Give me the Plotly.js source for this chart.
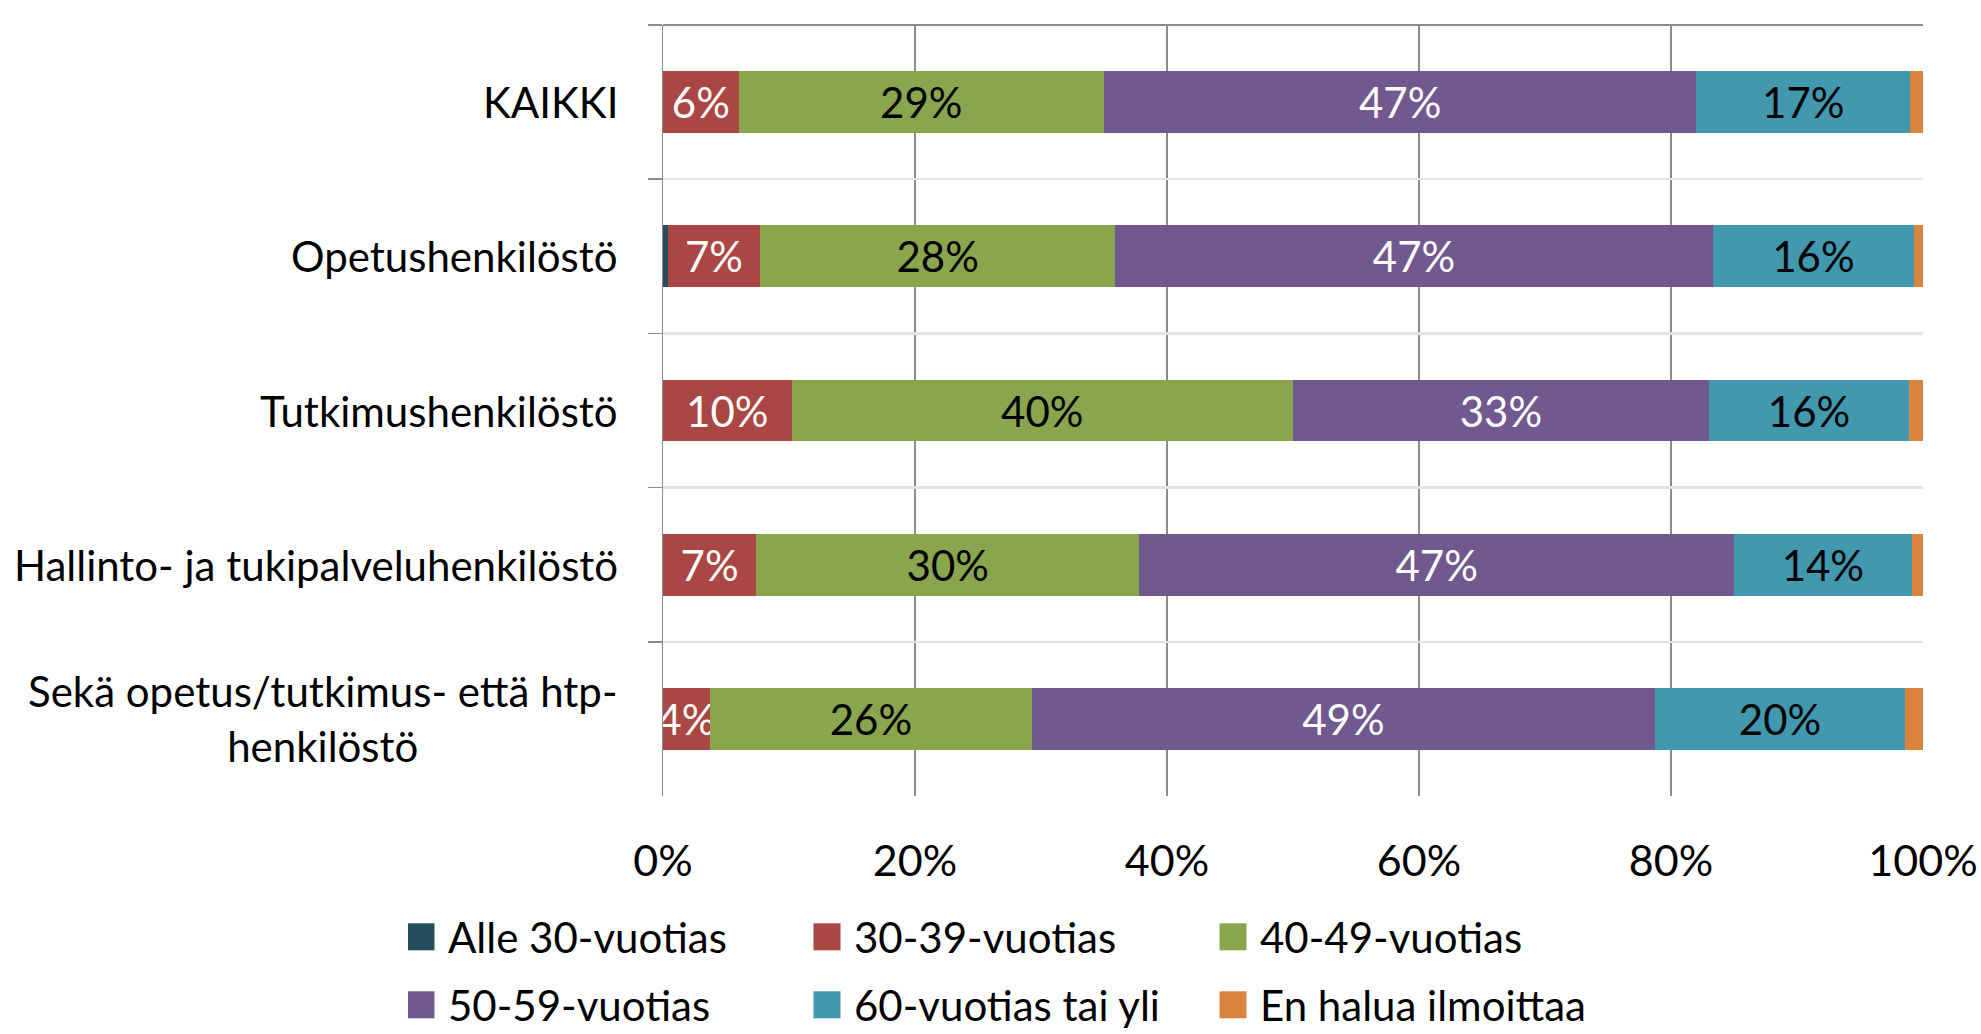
<!DOCTYPE html>
<html><head><meta charset="utf-8">
<script src="https://cdn.plot.ly/plotly-3.0.1.min.js"></script>
<style>html,body{margin:0;padding:0;background:#fff}#chart{width:1981px;height:1034px}</style>
</head><body><div id="chart"></div>
<script>
// Categories (top to bottom)
const categories = ['KAIKKI','Opetushenkilöstö','Tutkimushenkilöstö','Hallinto- ja tukipalveluhenkilöstö','Sekä opetus/tutkimus- että htp-henkilöstö'];
const categoryLabels = ['KAIKKI','Opetushenkilöstö','Tutkimushenkilöstö','Hallinto- ja tukipalveluhenkilöstö','Sekä opetus/tutkimus- että htp-<br>henkilöstö'];

// Series names
const seriesNames = ['Alle 30-vuotias','30-39-vuotias','40-49-vuotias','50-59-vuotias','60-vuotias tai yli','En halua ilmoittaa'];

// Values (percent of each row)
const alle30   = [0.0, 0.4, 0.0, 0.0, 0.0];
const v30_39   = [6.0, 7.3, 10.2, 7.4, 3.7];
const v40_49   = [29.0, 28.2, 39.8, 30.4, 25.6];
const v50_59   = [47.0, 47.4, 33.0, 47.2, 49.4];
const v60plus  = [17.0, 16.0, 15.9, 14.1, 19.9];
const enHalua  = [1.0, 0.7, 1.1, 0.9, 1.4];

// X-axis ticks
const tickVals = [0,20,40,60,80,100];
const tickText = ['0%','20%','40%','60%','80%','100%'];

const seriesValues = [alle30, v30_39, v40_49, v50_59, v60plus, enHalua];
const colors = ['#254E5C','#AA4644','#89A54E','#71588F','#4198AF','#DB843D'];
const labelColors = [null,'#ffffff','#000000','#ffffff','#000000',null];
const legendIds = ['legend','legend','legend','legend2','legend2','legend2'];

const FONT = 'Lato, "Open Sans", sans-serif';

const traces = seriesValues.map((vals, i) => ({
  type: 'bar',
  orientation: 'h',
  name: seriesNames[i],
  x: vals,
  y: categories,
  marker: {color: colors[i], line: {width: 0}},
  texttemplate: labelColors[i] ? '%{x:.0f}%' : '',
  textposition: labelColors[i] ? 'inside' : 'none',
  insidetextanchor: 'middle',
  textangle: 0,
  constraintext: 'none',
  insidetextfont: {family: FONT, size: 42, color: labelColors[i] || '#000'},
  legend: legendIds[i],
  hoverinfo: 'skip'
}));

const legendBase = {
  orientation: 'h',
  xref: 'container', yref: 'container',
  xanchor: 'left', yanchor: 'middle',
  entrywidth: 361,
  font: {family: FONT, size: 42, color: '#000'},
  bgcolor: 'rgba(0,0,0,0)',
  traceorder: 'normal'
};

const layout = {
  width: 1981, height: 1034,
  margin: {l: 663, r: 58, t: 25, b: 238, pad: 0},
  paper_bgcolor: '#ffffff', plot_bgcolor: '#ffffff',
  barmode: 'stack', bargap: 0.6,
  font: {family: FONT, size: 42, color: '#000'},
  showlegend: true,
  xaxis: {
    range: [0, 100], tickmode: 'array', tickvals: tickVals, ticktext: tickText,
    showgrid: true, gridcolor: '#8c8c8c', gridwidth: 1.5,
    zeroline: false, showline: false, ticks: '',
    tickfont: {family: FONT, size: 43, color: '#000'},
    ticklabelstandoff: 36, fixedrange: true
  },
  yaxis: {
    type: 'category', categoryorder: 'array', categoryarray: categories,
    autorange: 'reversed', tickson: 'boundaries',
    ticks: 'outside', ticklen: 14, tickwidth: 1.5, tickcolor: '#8c8c8c',
    showgrid: true, gridcolor: '#e4e4e4', gridwidth: 2.5,
    showline: true, linecolor: '#8c8c8c', linewidth: 1.5,
    showticklabels: false, zeroline: false, fixedrange: true
  },
  shapes: [{type: 'line', xref: 'paper', yref: 'paper', x0: 0, x1: 1, y0: 1, y1: 1,
            line: {color: '#8c8c8c', width: 2}}],
  annotations: categories.map((c, i) => ({
    xref: 'paper', yref: 'y', x: 0, y: c, xanchor: 'right', yanchor: 'middle',
    xshift: -43, align: 'center', showarrow: false, text: categoryLabels[i],
    font: {family: FONT, size: 42, color: '#000'}
  })),
  legend: Object.assign({}, legendBase, {x: 408 / 1981, y: 1 - 937 / 1034}),
  legend2: Object.assign({}, legendBase, {x: 408 / 1981, y: 1 - 1005 / 1034})
};

Plotly.newPlot('chart', traces, layout, {displayModeBar: false, staticPlot: true}).then(gd => {
  gd.querySelectorAll('.legendpoints path').forEach(p => {
    const t = p.getAttribute('transform') || '';
    p.setAttribute('transform', t + ' translate(-7,0) scale(2.25)');
  });
});
</script></body></html>
